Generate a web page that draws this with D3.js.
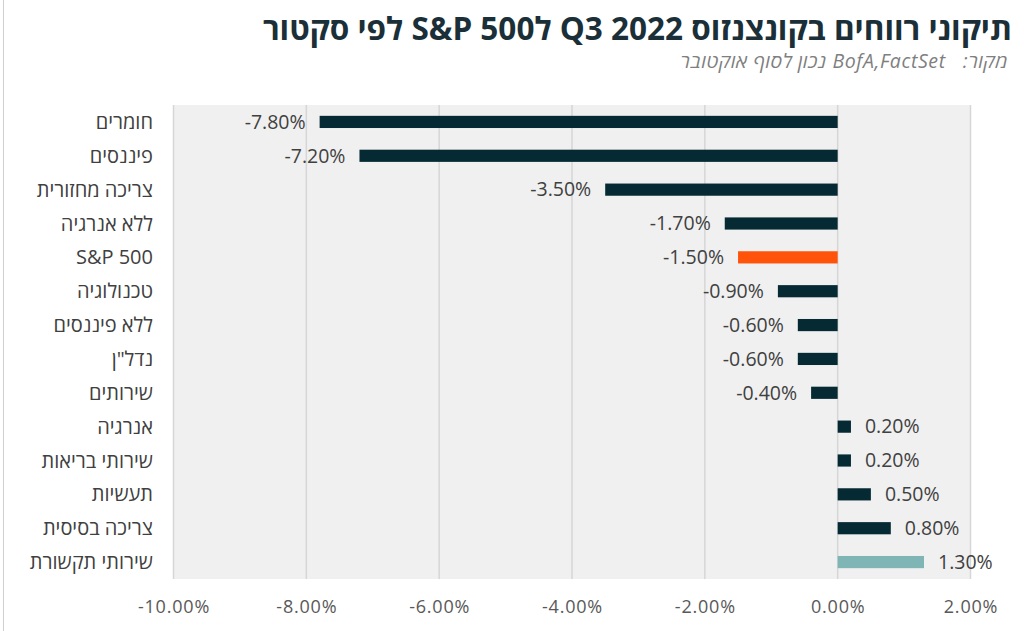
<!DOCTYPE html>
<html><head><meta charset="utf-8">
<script src="https://cdn.jsdelivr.net/npm/d3@7"></script>
<style>
body{margin:0;background:#fff;}
svg{display:block;}
</style></head>
<body>
<svg id="chart" width="1024" height="631"></svg>
<script>
const categories = ["חומרים","פיננסים","צריכה מחזורית","ללא אנרגיה","S&P 500","טכנולוגיה","ללא פיננסים","נדל\"ן","שירותים","אנרגיה","שירותי בריאות","תעשיות","צריכה בסיסית","שירותי תקשורת"];
const values = [-7.8,-7.2,-3.5,-1.7,-1.5,-0.9,-0.6,-0.6,-0.4,0.2,0.2,0.5,0.8,1.3];
const highlight = ["base","base","base","base","index","base","base","base","base","base","base","base","base","telecom"];
const tickValues = [-10,-8,-6,-4,-2,0,2];
const titleText = "תיקוני רווחים בקונצנזוס Q3 2022 לS&P 500 לפי סקטור";
const subtitleText = "מקור:   BofA,FactSet נכון לסוף אוקטובר";

const colors = {base:"#052a33", index:"#ff5309", telecom:"#7fb5b5"};
const svg = d3.select("#chart");
const pLeft = 173.5, pRight = 970.5, pTop = 105, pBottom = 579;

const x = d3.scaleLinear().domain([-10,2]).range([pLeft,pRight]);
const y = d3.scaleBand().domain(categories).range([pTop,pBottom]).paddingInner(0.64).paddingOuter(0.32);

// page border
svg.append("line").attr("x1",3.5).attr("x2",3.5).attr("y1",0).attr("y2",631).attr("stroke","#d0d0d0");

// plot background
svg.append("rect").attr("x",pLeft).attr("y",pTop).attr("width",pRight-pLeft).attr("height",pBottom-pTop).attr("fill","#f0f0f0");

// gridlines
svg.append("g").selectAll("line").data(tickValues).join("line")
  .attr("x1",d=>x(d)).attr("x2",d=>x(d)).attr("y1",pTop).attr("y2",pBottom)
  .attr("stroke","#d6d6d6").attr("stroke-width",1.5);

// x axis
const xAxis = d3.axisBottom(x).tickValues(tickValues).tickSize(0).tickPadding(0)
  .tickFormat(d=>d3.format(".2f")(d).replace("−","-")+"%");
const gx = svg.append("g").attr("transform",`translate(0,${pBottom+28})`).call(xAxis);
gx.select(".domain").remove();
gx.selectAll("text").attr("fill","#595959").attr("font-size",18)
  .attr("font-family","'Open Sans', sans-serif").style("letter-spacing","0.8px").attr("dy","0.35em").attr("y",0);

// y axis labels
const yAxis = d3.axisLeft(y).tickSize(0).tickPadding(0);
const gy = svg.append("g").attr("transform",`translate(153,0)`).call(yAxis);
gy.select(".domain").remove();
gy.selectAll("text").attr("fill","#404040").attr("font-size",20)
  .attr("font-family","'Open Sans', sans-serif").attr("x",0).attr("dy","0.35em")
  .attr("text-anchor","end");

// bars
const rows = categories.map((c,i)=>({c,v:values[i],h:highlight[i]}));
svg.append("g").selectAll("rect").data(rows).join("rect")
  .attr("x",d=>x(Math.min(0,d.v))).attr("y",d=>y(d.c))
  .attr("width",d=>Math.abs(x(d.v)-x(0))).attr("height",y.bandwidth())
  .attr("fill",d=>colors[d.h]);

// value labels
svg.append("g").selectAll("text").data(rows).join("text")
  .attr("x",d=>d.v<0 ? x(d.v)-14 : x(d.v)+14)
  .attr("y",d=>y(d.c)+y.bandwidth()/2).attr("dy","0.35em")
  .attr("text-anchor",d=>d.v<0?"end":"start")
  .attr("fill","#404040").attr("font-size",19.5)
  .attr("font-family","'Open Sans', sans-serif")
  .text(d=>d3.format(".2f")(d.v).replace("−","-")+"%");

// title
svg.append("text").attr("x",1012).attr("y",40).attr("direction","rtl").attr("text-anchor","start")
  .attr("font-family","'Open Sans', sans-serif").attr("font-weight",700).attr("font-size",31.5)
  .attr("fill","#1b2f38").text(titleText);
svg.append("text").attr("x",1008).attr("y",68).attr("direction","rtl").attr("text-anchor","start")
  .attr("font-family","'Open Sans', sans-serif").attr("font-style","italic").attr("font-size",19.5)
  .style("letter-spacing","0.6px")
  .attr("fill","#7f7f7f").style("white-space","pre").text(subtitleText);
</script>
</body></html>
